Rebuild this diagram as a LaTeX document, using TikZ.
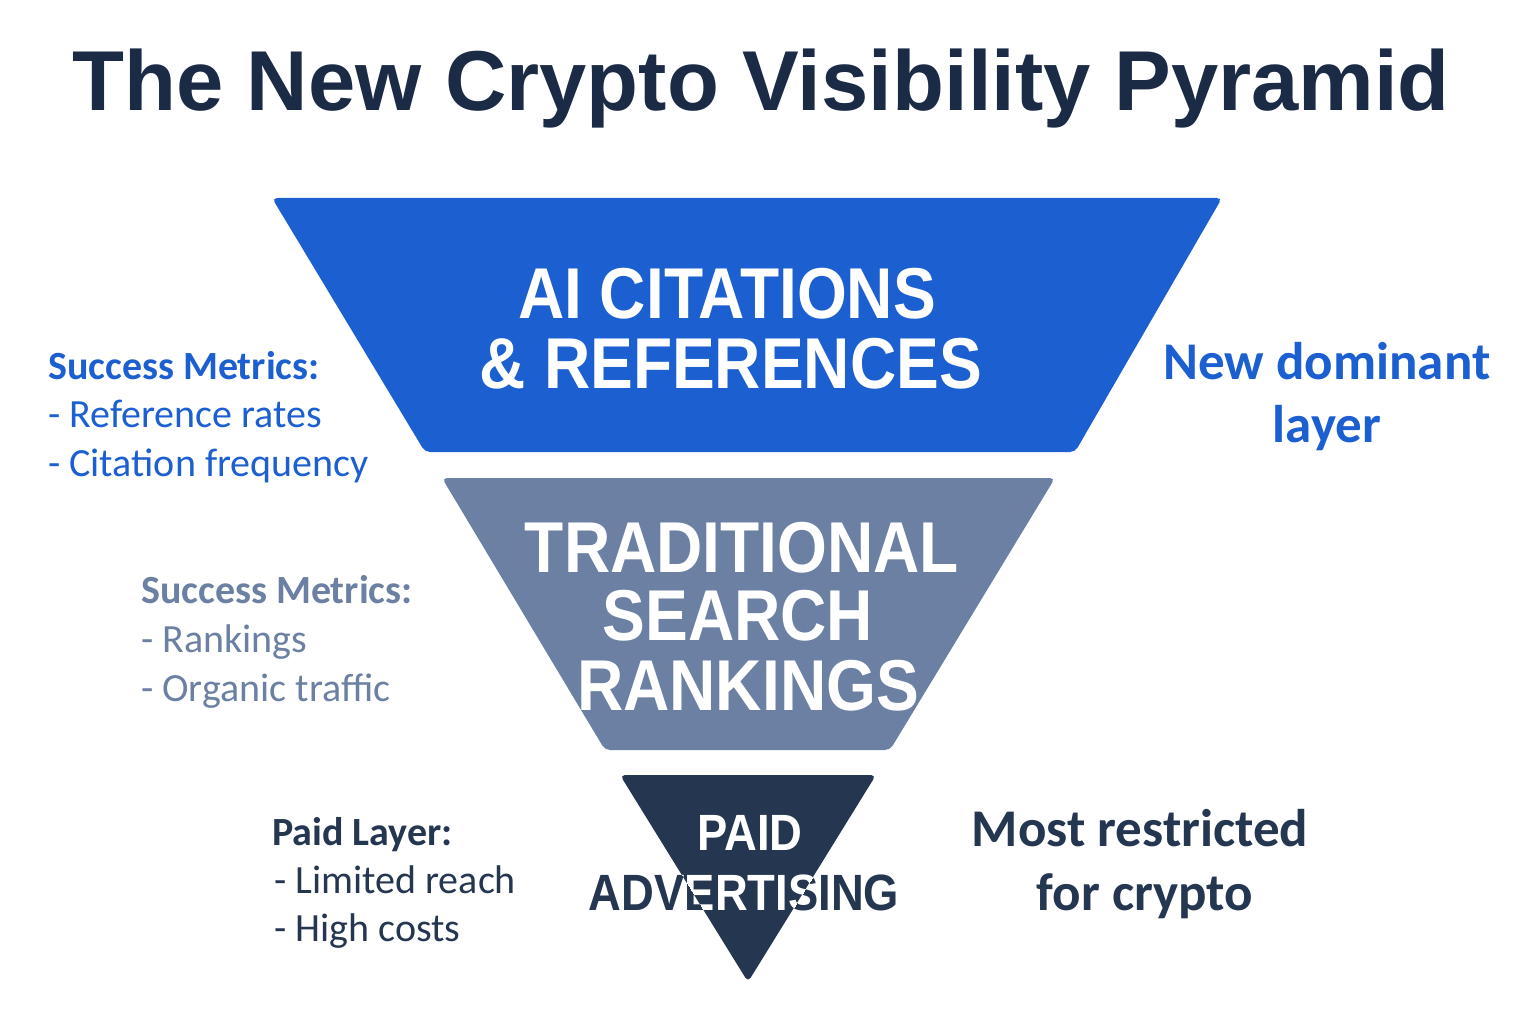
\documentclass[tikz,border=0pt]{standalone}
\usepackage{fontspec}
\setmainfont{Carlito}
\newfontfamily\titlefont{Liberation Sans}
\newfontfamily\layerfont[FakeStretch=0.89]{Liberation Sans}
\definecolor{titlecol}{HTML}{1B2B45}
\definecolor{aiblue}{HTML}{1C5FD0}
\definecolor{searchgray}{HTML}{6B80A3}
\definecolor{paidnavy}{HTML}{243650}
\tikzset{
  layer/.style={line join=round, rounded corners=5pt},
  layertext/.style={font=\layerfont\bfseries\fontsize{72}{72}\selectfont, text=white, anchor=base, inner sep=0pt},
  paidtext/.style={font=\layerfont\bfseries\fontsize{51}{51}\selectfont, anchor=base, inner sep=0pt},
  metric/.style={font=\fontsize{40}{40}\selectfont, anchor=base west, inner sep=0pt},
  metrichead/.style={metric, font=\bfseries\fontsize{40}{40}\selectfont},
  note/.style={font=\bfseries\fontsize{53}{53}\selectfont, anchor=base, inner sep=0pt},
}
\begin{document}
\begin{tikzpicture}[x=1pt,y=-1pt]
\useasboundingbox (0,0) rectangle (1536,1024);
\fill[white] (0,0) rectangle (1536,1024);

% title
\node[font=\titlefont\bfseries\fontsize{85}{85}\selectfont, text=titlecol, anchor=base, inner sep=0pt] (title) at (761,111) {The New Crypto Visibility Pyramid};

% layers
\fill[aiblue, layer] (272,198) -- (1222,198) -- (1075,452) -- (425,452) -- cycle;
\fill[searchgray, layer] (442,478) -- (1055,478) -- (890,750) -- (605,750) -- cycle;
\fill[paidnavy, layer] (620,775) -- (876,775) -- (748,982) -- cycle;

% layer texts
\node[layertext] (ai1) at (727,318) {AI CITATIONS};
\node[layertext] (ai2) at (731,388) {\& REFERENCES};
\node[layertext] (ts1) at (742,572) {TRADITIONAL};
\node[layertext] (ts2) at (738,640) {SEARCH};
\node[layertext] (ts3) at (748,710) {RANKINGS};

\node[paidtext, text=paidnavy] (pa1) at (750,850) {PAID};
\node[paidtext, text=paidnavy] (pa2) at (744,910) {ADVERTISING};
\begin{scope}
\clip (620,775) -- (876,775) -- (748,982) -- cycle;
\node[paidtext, text=white] (pa1w) at (750,850) {PAID};
\node[paidtext, text=white] (pa2w) at (744,910) {ADVERTISING};
\end{scope}

% left metrics
\node[metrichead, text=aiblue] (m1h) at (48,379) {Success Metrics:};
\node[metric, text=aiblue] (m1a) at (48,427) {- Reference rates};
\node[metric, text=aiblue] (m1b) at (48,476) {- Citation frequency};

\node[metrichead, text=searchgray] (m2h) at (141,603) {Success Metrics:};
\node[metric, text=searchgray] (m2a) at (141,652) {- Rankings};
\node[metric, text=searchgray] (m2b) at (141,701) {- Organic traffic};

\node[metrichead, text=paidnavy] (m3h) at (272,845) {Paid Layer:};
\node[metric, text=paidnavy] (m3a) at (274,893) {- Limited reach};
\node[metric, text=paidnavy] (m3b) at (274,941) {- High costs};

% right notes
\node[note, text=aiblue] (n1a) at (1327,379) {New dominant};
\node[note, text=aiblue] (n1b) at (1327,442) {layer};
\node[note, text=paidnavy] (n2a) at (1140,846) {Most restricted};
\node[note, text=paidnavy] (n2b) at (1145,910) {for crypto};
\end{tikzpicture}
\end{document}
